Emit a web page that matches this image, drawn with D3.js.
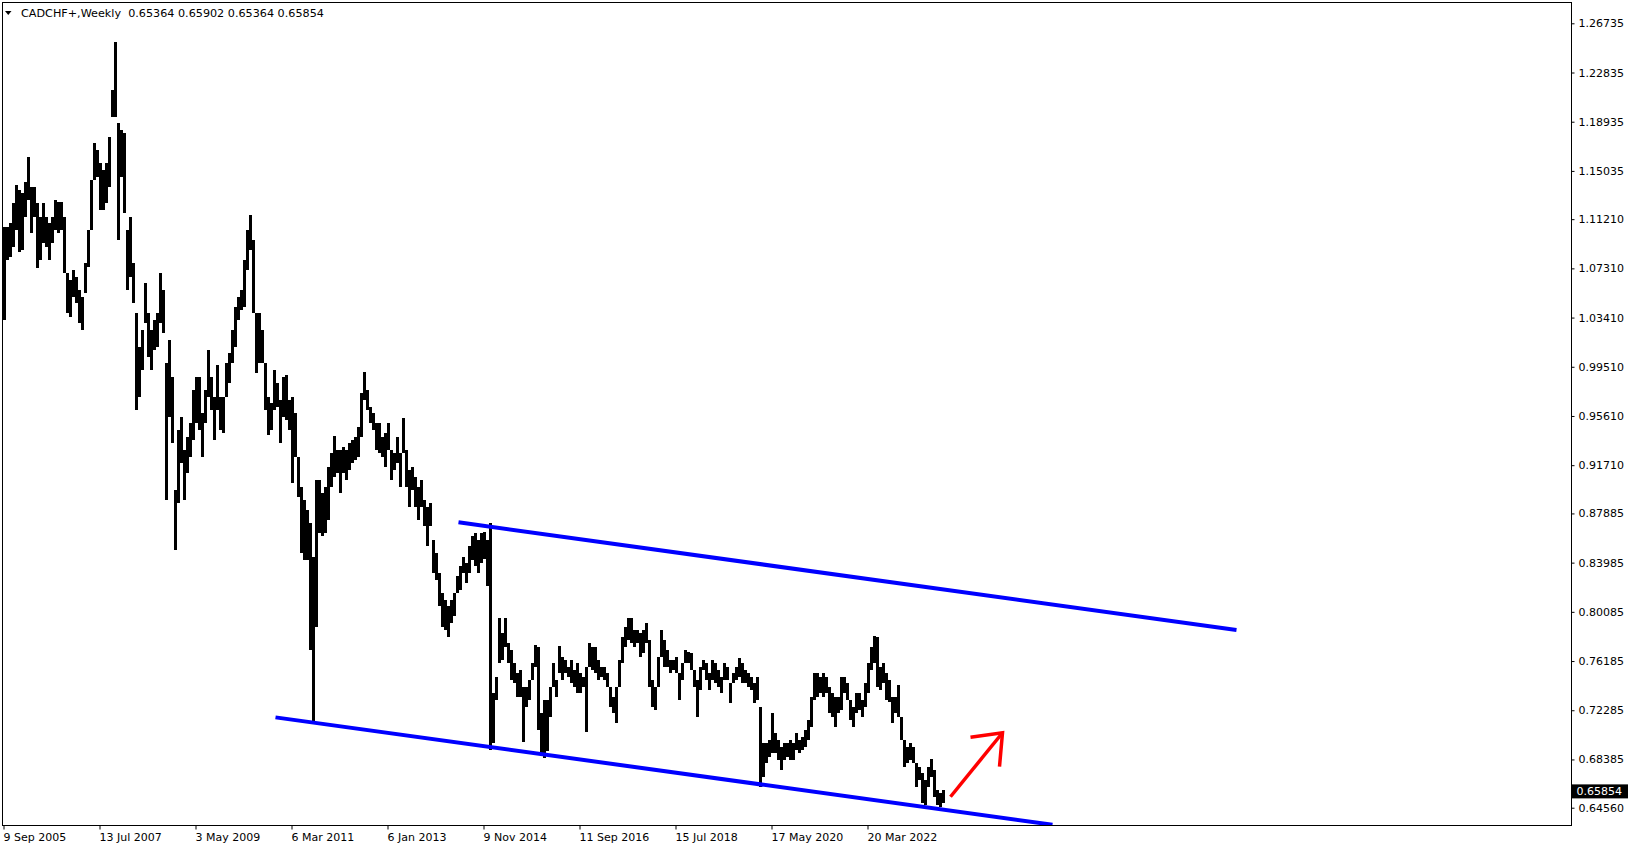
<!DOCTYPE html>
<html><head><meta charset="utf-8">
<script src="https://cdn.jsdelivr.net/npm/d3@7"></script>
<style>
body{margin:0;background:#fff;}
svg{display:block;}
text{font-family:"DejaVu Sans",sans-serif;}
</style>
</head><body><svg id="c" width="1635" height="850"></svg>
<script>
// ---------- data ----------
const symbolName = "CADCHF+,Weekly";
const lastOHLC = [0.65364, 0.65902, 0.65364, 0.65854];
const weeksPerPoint = 3; // each hi/lo pair covers 3 weekly bars
const hi = [
1.1062,1.1062,1.1088,1.1246,1.1392,1.1352,1.1326,1.1418,1.1616,1.1379,
1.1379,1.1247,1.1141,1.1247,1.1141,1.1088,1.1141,1.1273,1.1260,1.1260,
1.1141,1.0691,1.0638,1.0718,1.0665,1.0559,1.0506,1.0771,1.1035,1.1432,
1.1722,1.1669,1.1563,1.1511,1.1563,1.1775,1.2145,1.2528,1.1880,1.1828,
1.1801,1.1035,1.1141,1.0771,1.0374,1.0110,1.0242,1.0612,1.0374,1.0242,
1.0322,1.0374,1.0691,1.0559,0.9978,1.0163,0.9872,0.8974,0.9449,0.9555,
0.9291,0.9396,0.9502,0.9767,0.9872,0.9872,0.9582,0.9767,1.0084,0.9872,
0.9714,0.9965,0.9714,0.9714,0.9978,1.0057,1.0242,1.0427,1.0506,1.0559,
1.0797,1.1035,1.1154,1.0956,1.0374,1.0374,1.0242,0.9978,0.9714,0.9661,
0.9925,0.9819,0.9687,0.9872,0.9886,0.9687,0.9714,0.9582,0.9238,0.9002,
0.8896,0.8817,0.8711,0.8447,0.9055,0.9055,0.8949,0.9002,0.9160,0.9266,
0.9403,0.9292,0.9292,0.9319,0.9292,0.9345,0.9371,0.9398,0.9477,0.9741,
0.9907,0.9767,0.9635,0.9582,0.9503,0.9503,0.9398,0.9424,0.9503,0.9292,
0.9266,0.9398,0.9266,0.9543,0.9292,0.9134,0.9160,0.9081,0.9002,0.9055,
0.8896,0.8843,0.8870,0.8579,0.8474,0.8315,0.8157,0.8104,0.8051,0.8104,
0.8157,0.8289,0.8368,0.8447,0.8395,0.8527,0.8606,0.8632,0.8579,0.8632,
0.8640,0.8579,0.8715,0.7363,0.7495,0.7957,0.7838,0.7957,0.7759,0.7707,
0.7601,0.7522,0.7548,0.7416,0.7416,0.7469,0.7601,0.7744,0.7733,0.7205,
0.7310,0.7310,0.7416,0.7601,0.7469,0.7738,0.7654,0.7627,0.7575,0.7627,
0.7548,0.7601,0.7522,0.7495,0.7575,0.7759,0.7733,0.7733,0.7627,0.7575,
0.7575,0.7522,0.7416,0.7337,0.7416,0.7627,0.7812,0.7891,0.7957,0.7957,
0.7865,0.7865,0.7838,0.7865,0.7918,0.7786,0.7469,0.7416,0.7654,0.7865,
0.7786,0.7707,0.7627,0.7627,0.7654,0.7522,0.7601,0.7707,0.7694,0.7680,
0.7548,0.7469,0.7575,0.7627,0.7601,0.7522,0.7627,0.7601,0.7548,0.7495,
0.7601,0.7575,0.7443,0.7522,0.7575,0.7641,0.7601,0.7548,0.7522,0.7495,
0.7443,0.7495,0.7257,0.6967,0.6967,0.6993,0.7204,0.7046,0.6993,0.6940,
0.6967,0.6967,0.6993,0.6967,0.7046,0.6993,0.7020,0.7072,0.7151,0.7336,
0.7521,0.7521,0.7495,0.7521,0.7495,0.7415,0.7363,0.7336,0.7336,0.7495,
0.7495,0.7442,0.7310,0.7257,0.7363,0.7363,0.7310,0.7442,0.7600,0.7732,
0.7817,0.7811,0.7574,0.7600,0.7521,0.7468,0.7336,0.7336,0.7429,0.7178,
0.6993,0.6940,0.6967,0.6940,0.6808,0.6782,0.6729,0.6676,0.6782,0.6840,
0.6755,0.6597,0.6570,0.6597
];
const lo = [
1.0322,1.0798,1.0824,1.0903,1.1035,1.0864,1.0877,1.1141,1.1273,1.1009,
1.1141,1.0733,1.0798,1.0930,1.0903,1.0798,1.0930,1.1035,1.1009,1.1035,
1.0691,1.0374,1.0348,1.0506,1.0453,1.0295,1.0242,1.0533,1.0744,1.1035,
1.1432,1.1458,1.1194,1.1194,1.1247,1.1379,1.1933,1.1933,1.0956,1.1458,
1.1167,1.0559,1.0665,1.0453,0.9608,0.9714,0.9925,1.0295,1.0031,0.9925,
1.0084,1.0110,1.0295,1.0216,0.8895,0.9555,0.9344,0.8498,0.8868,0.9185,
0.8895,0.9106,0.9238,0.9370,0.9502,0.9449,0.9238,0.9502,0.9714,0.9608,
0.9370,0.9608,0.9449,0.9423,0.9714,0.9819,0.9978,1.0110,1.0322,1.0401,
1.0427,1.0718,1.0876,1.0374,0.9899,0.9978,0.9978,0.9608,0.9410,0.9449,
0.9608,0.9634,0.9344,0.9555,0.9529,0.9449,0.9026,0.9238,0.8921,0.8474,
0.8421,0.8421,0.7708,0.7127,0.7891,0.8632,0.8606,0.8632,0.8738,0.9002,
0.9081,0.9107,0.8949,0.9107,0.9055,0.9134,0.9187,0.9213,0.9239,0.9398,
0.9688,0.9609,0.9503,0.9450,0.9292,0.9266,0.9239,0.9160,0.9292,0.9055,
0.9134,0.9187,0.9002,0.9266,0.9002,0.8843,0.8975,0.8843,0.8738,0.8843,
0.8685,0.8527,0.8685,0.8315,0.8262,0.8051,0.7891,0.7865,0.7813,0.7918,
0.7972,0.8157,0.8183,0.8315,0.8236,0.8315,0.8421,0.8368,0.8315,0.8395,
0.8430,0.8210,0.6915,0.6967,0.7310,0.7601,0.7627,0.7733,0.7601,0.7469,
0.7443,0.7337,0.7337,0.6973,0.7258,0.7310,0.7469,0.7575,0.7073,0.6862,
0.6849,0.6902,0.7178,0.7416,0.7337,0.7522,0.7469,0.7522,0.7495,0.7443,
0.7416,0.7363,0.7363,0.7416,0.7060,0.7575,0.7548,0.7522,0.7469,0.7495,
0.7469,0.7416,0.7258,0.7205,0.7126,0.7416,0.7601,0.7733,0.7786,0.7759,
0.7733,0.7759,0.7654,0.7680,0.7759,0.7416,0.7258,0.7231,0.7416,0.7654,
0.7575,0.7575,0.7522,0.7548,0.7522,0.7310,0.7469,0.7601,0.7601,0.7548,
0.7416,0.7178,0.7390,0.7548,0.7469,0.7390,0.7469,0.7443,0.7416,0.7363,
0.7469,0.7469,0.7284,0.7443,0.7469,0.7495,0.7443,0.7443,0.7416,0.7390,
0.7284,0.7310,0.6622,0.6703,0.6808,0.6861,0.6887,0.6887,0.6835,0.6755,
0.6835,0.6861,0.6835,0.6835,0.6914,0.6887,0.6914,0.6940,0.6993,0.7099,
0.7310,0.7336,0.7363,0.7336,0.7363,0.7204,0.7178,0.7099,0.7204,0.7231,
0.7363,0.7310,0.7151,0.7099,0.7204,0.7231,0.7178,0.7257,0.7363,0.7547,
0.7600,0.7415,0.7389,0.7442,0.7310,0.7297,0.7125,0.7204,0.7178,0.6993,
0.6782,0.6808,0.6835,0.6808,0.6622,0.6676,0.6491,0.6478,0.6622,0.6703,
0.6544,0.6478,0.6465,0.6491
];
const xTickBars = [0, 96, 192, 288, 384, 480, 576, 672, 768, 864];
const xTickLabels = ["9 Sep 2005","13 Jul 2007","3 May 2009","6 Mar 2011","6 Jan 2013",
                     "9 Nov 2014","11 Sep 2016","15 Jul 2018","17 May 2020","20 Mar 2022"];
const yTickValues = [1.26735,1.22835,1.18935,1.15035,1.11210,1.07310,1.03410,0.99510,0.95610,
                     0.91710,0.87885,0.83985,0.80085,0.76185,0.72285,0.68385,0.64560];
const upperChannel = [[455, 0.8718], [1233, 0.7864]];
const lowerChannel = [[272, 0.7172], [1049, 0.6321]];
const arrowShaft = [[947, 0.6543], [999, 0.7050]];
const arrowHead  = [[967, 0.7014], [999, 0.7050], [996, 0.6781]];

// ---------- layout ----------
const W = 1635, H = 850;
const L = 2.5, T = 2.5, R = 1571.5, B = 825.5;
const FONT = '"DejaVu Sans",sans-serif';
const svg = d3.select("#c");

const x = d3.scaleLinear().domain([0, 1567]).range([3.5, 1570.5]);
const y = d3.scaleLinear().domain([0.6311, 1.28344]).range([826, 3]);

svg.append("rect").attr("width", W).attr("height", H).attr("fill", "#fff");

svg.append("defs").append("clipPath").attr("id", "plot")
  .append("rect").attr("x", L).attr("y", T).attr("width", R - L).attr("height", B - T);

const g = svg.append("g").attr("clip-path", "url(#plot)");

// price bars
g.append("g").attr("shape-rendering", "crispEdges")
  .selectAll("rect").data(hi.map((h, i) => ({h, l: lo[i], i})))
  .join("rect")
  .attr("x", d => x(d.i * weeksPerPoint) - 0.5)
  .attr("width", d => x((d.i + 1) * weeksPerPoint) - x(d.i * weeksPerPoint))
  .attr("y", d => y(d.h))
  .attr("height", d => Math.max(1, y(d.l) - y(d.h)))
  .attr("fill", "#000");

// channel lines
const line = d3.line().x(d => x(d[0])).y(d => y(d[1]));
[upperChannel, lowerChannel].forEach(c => {
  g.append("path").attr("d", line(c)).attr("stroke", "#0000ff")
    .attr("stroke-width", 4).attr("fill", "none");
});

// red arrow
g.append("path").attr("d", line(arrowShaft)).attr("stroke", "#ff0000")
  .attr("stroke-width", 3.5).attr("fill", "none");
g.append("path").attr("d", line(arrowHead)).attr("stroke", "#ff0000")
  .attr("stroke-width", 3.5).attr("fill", "none").attr("stroke-linejoin", "miter");

// frame
svg.append("rect").attr("x", L).attr("y", T).attr("width", R - L).attr("height", B - T)
  .attr("fill", "none").attr("stroke", "#000").attr("stroke-width", 1);

// y axis (right)
const yAxis = d3.axisRight(y).tickValues(yTickValues).tickSize(3).tickPadding(4)
  .tickFormat(d3.format(".5f"));
const ya = svg.append("g").attr("transform", `translate(${R},0)`).call(yAxis);
ya.select(".domain").remove();
ya.selectAll("text").attr("font-size", "11px").attr("fill", "#000").attr("font-family", FONT);
ya.selectAll("line").attr("stroke", "#000");

// x axis (bottom)
const xAxis = d3.axisBottom(x).tickValues(xTickBars).tickSize(4)
  .tickFormat((d, i) => xTickLabels[i]);
const xa = svg.append("g").attr("transform", `translate(0,${B})`).call(xAxis);
xa.select(".domain").remove();
xa.selectAll("text").attr("text-anchor", "start").attr("x", -0.5).attr("y", 7.5)
  .attr("font-size", "11px").attr("fill", "#000").attr("font-family", FONT);
xa.selectAll("line").attr("stroke", "#000");

// last price label
const cy = y(lastOHLC[3]);
svg.append("rect").attr("x", 1572).attr("y", cy - 7).attr("width", 56).attr("height", 14).attr("fill", "#000");
svg.append("text").attr("x", 1576.5).attr("y", cy + 4).attr("fill", "#fff")
  .attr("font-size", "11px").attr("font-family", FONT).text(d3.format(".5f")(lastOHLC[3]));

// header
svg.append("path").attr("d", "M5,11 L11.5,11 L8.25,15 Z").attr("fill", "#000");
svg.append("text").attr("x", 21).attr("y", 16.5).attr("font-size", "11.2px").attr("fill", "#000")
  .attr("font-family", FONT).style("white-space", "pre")
  .text(symbolName + "  " + lastOHLC.map(v => d3.format(".5f")(v)).join(" "));
</script>
</body></html>
